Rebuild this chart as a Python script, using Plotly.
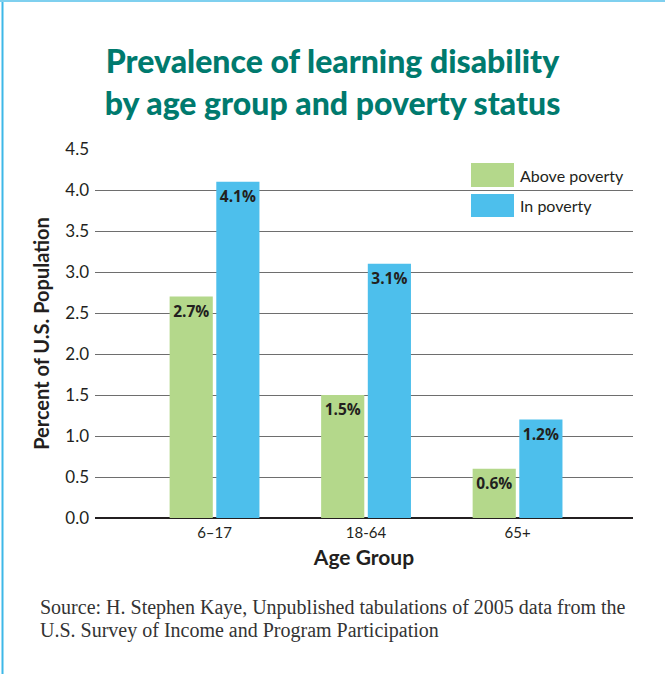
import plotly.graph_objects as go

categories = ["6–17", "18-64", "65+"]
above_poverty = [2.7, 1.5, 0.6]
in_poverty = [4.1, 3.1, 1.2]
series_names = ["Above poverty", "In poverty"]
y_ticks = [0, 0.5, 1.0, 1.5, 2.0, 2.5, 3.0, 3.5, 4.0, 4.5]
source_lines = ["Source: H. Stephen Kaye, Unpublished tabulations of 2005 data from the",
                "U.S. Survey of Income and Program Participation"]

GREEN = "#B4D88B"
BLUE = "#4DBFEC"
DARK = "#231F20"
SANS = "Lato, 'Open Sans', sans-serif"
LABEL = "'Open Sans', sans-serif"

fig = go.Figure()
for name, vals, col in [(series_names[0], above_poverty, GREEN), (series_names[1], in_poverty, BLUE)]:
    fig.add_trace(go.Bar(
        x=categories, y=vals, name=name,
        marker=dict(color=col, line=dict(width=0)),
        texttemplate="<b>%{y:.1f}%</b>",
        textposition="inside", insidetextanchor="end",
        textangle=0,
        textfont=dict(family=LABEL, size=15.5, color=DARK),
        showlegend=False,
    ))

L, R, T, B = 95, 32, 149, 156
W, H = 665, 674
pw = W - L - R
ph = H - T - B

def px(x):
    return (x - L) / pw

def py(y):
    return (H - B - y) / ph

shapes = []
annotations = []
# legend swatches
swatch_rows = [(163, 187), (194, 217)]
for (y0, y1), col, name in zip(swatch_rows, [GREEN, BLUE], series_names):
    shapes.append(dict(type="rect", xref="paper", yref="paper",
                       x0=px(471), x1=px(514), y0=py(y1), y1=py(y0),
                       fillcolor=col, line=dict(width=0), layer="above"))
    annotations.append(dict(xref="paper", yref="paper", x=px(518), y=py((y0 + y1) / 2),
                            xanchor="left", yanchor="middle", showarrow=False,
                            text=name, font=dict(family=SANS, size=16, color=DARK)))

# source note
for i, line in enumerate(source_lines):
    annotations.append(dict(xref="paper", yref="paper", x=px(38), y=py(607 + 23 * i),
                            xanchor="left", yanchor="middle", align="left", showarrow=False,
                            text=line,
                            font=dict(family="'Liberation Serif', serif", size=20, color="#333333")))

# page border (left and top)
shapes.append(dict(type="line", xref="paper", yref="paper", x0=px(2.5), x1=px(2.5), y0=py(674), y1=py(0),
                   line=dict(color="#3DB8E8", width=2)))
shapes.append(dict(type="line", xref="paper", yref="paper", x0=px(0), x1=px(665), y0=py(1), y1=py(1),
                   line=dict(color="#7FD0EF", width=2)))

fig.update_layout(
    width=W, height=H,
    margin=dict(l=L, r=R, t=T, b=B),
    paper_bgcolor="white", plot_bgcolor="white",
    barmode="group", bargap=0.384, bargroupgap=0.075,
    uniformtext=dict(minsize=15, mode="show"),
    title=dict(text="Prevalence of learning disability<br>by age group and poverty status",
               x=0.5, xref="container", xanchor="center",
               y=1 - 73 / H, yref="container", yanchor="top",
               font=dict(family=SANS, size=32, color="#007A6E", weight=900)),
    xaxis=dict(type="category", range=[-0.789, 2.762], showgrid=False, showline=False,
               ticks="", ticklabelstandoff=4, tickfont=dict(family=SANS, size=15, color=DARK),
               title=dict(text="<b>Age Group</b>", font=dict(family=SANS, size=21, color=DARK), standoff=10)),
    yaxis=dict(range=[0, 4.5], tickvals=y_ticks, tickformat=".1f",
               showgrid=True, gridcolor="#6E6E6E", gridwidth=1.3,
               zeroline=True, zerolinecolor="#231F20", zerolinewidth=2.2,
               showline=False, ticks="", ticklabelstandoff=5,
               tickfont=dict(family=SANS, size=17, color=DARK),
               title=dict(text="<b>Percent of U.S. Population</b>", font=dict(family=SANS, size=20, color=DARK), standoff=10)),
    shapes=shapes, annotations=annotations,
)

fig.write_html("out.html", config={"displayModeBar": False},
               post_script="document.body.style.margin='0';")
